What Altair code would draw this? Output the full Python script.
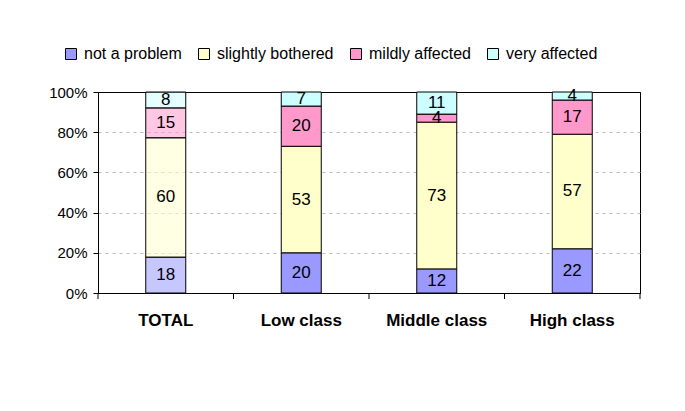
import altair as alt
import pandas as pd

categories = ["TOTAL", "Low class", "Middle class", "High class"]
responses = ["not a problem", "slightly bothered", "mildly affected", "very affected"]
not_a_problem = [18, 20, 12, 22]
slightly_bothered = [60, 53, 73, 57]
mildly_affected = [15, 20, 4, 17]
very_affected = [8, 7, 11, 4]
colors = ["#9999FF", "#FFFFCC", "#FF99CC", "#CCFFFF"]
y_ticks = [0, 0.2, 0.4, 0.6, 0.8, 1.0]

series = [not_a_problem, slightly_bothered, mildly_affected, very_affected]
rows = []
for i, c in enumerate(categories):
    for j, (r, vals) in enumerate(zip(responses, series)):
        rows.append({"cat": c, "resp": r, "order": j, "value": vals[i]})
df = pd.DataFrame(rows)

FONT = "Liberation Sans"

xscale = alt.Scale(paddingInner=0, paddingOuter=0)

base = alt.Chart(df).transform_stack(
    stack="value",
    groupby=["cat"],
    as_=["y0", "y1"],
    offset="normalize",
    sort=[alt.SortField("order", order="ascending")],
).transform_calculate(mid="(datum.y0 + datum.y1) / 2")

x_enc = alt.X(
    "cat:N",
    sort=categories,
    title=None,
    scale=xscale,
    axis=alt.Axis(
        ticks=False,
        labelAngle=0,
        labelFontSize=17,
        labelFontWeight="bold",
        labelPadding=19,
        labelColor="black",
        domainColor="black",
        grid=False,
    ),
)

edge = "datum.value == 0 || datum.value == 1"

bars = base.mark_bar(size=40, stroke="black", strokeWidth=1).encode(
    x=x_enc,
    y=alt.Y(
        "y0:Q",
        scale=alt.Scale(domain=[0, 1], nice=False),
        title=None,
        axis=alt.Axis(
            values=y_ticks,
            format=".0%",
            labelFontSize=15,
            labelColor="black",
            labelPadding=6,
            tickSize=5,
            tickColor="black",
            domainColor="black",
            grid=True,
            gridColor=alt.condition(edge, alt.value("black"), alt.value("#BBBBBB")),
            gridDash=alt.condition(edge, alt.value([1, 0]), alt.value([3, 4])),
        ),
    ),
    y2="y1:Q",
    color=alt.Color(
        "resp:N",
        sort=responses,
        scale=alt.Scale(domain=responses, range=colors),
        legend=alt.Legend(
            orient="none",
            legendX=-35,
            legendY=-46,
            direction="horizontal",
            title=None,
            symbolType="square",
            symbolSize=121,
            symbolStrokeColor="black",
            symbolStrokeWidth=1,
            symbolOpacity=1,
            labelFontSize=16,
            labelColor="black",
            labelOffset=5,
            columnPadding=14,
            padding=0,
        ),
    ),
    fillOpacity=alt.condition(
        "datum.cat == 'TOTAL'", alt.value(0.55), alt.value(1.0)
    ),
    order=alt.Order("order:Q"),
)

labels = base.mark_text(fontSize=17, color="black", baseline="middle").encode(
    x=alt.X("cat:N", sort=categories, scale=xscale),
    y=alt.Y("mid:Q"),
    text=alt.Text("value:Q"),
)

tick_df = pd.DataFrame({"cat": categories})
ticks_left = alt.Chart(tick_df).mark_rule(color="black").encode(
    x=alt.X("cat:N", sort=categories, scale=xscale, bandPosition=0),
    y=alt.value(201),
    y2=alt.value(207),
)
ticks_right = alt.Chart(tick_df).transform_filter(
    "datum.cat == 'High class'"
).mark_rule(color="black").encode(
    x=alt.X("cat:N", sort=categories, scale=xscale, bandPosition=1),
    y=alt.value(201),
    y2=alt.value(207),
)

chart = alt.layer(bars, labels, ticks_left, ticks_right).properties(
    width=542,
    height=201,
    autosize=alt.AutoSizeParams(type="none"),
    padding={"left": 90, "top": 84, "right": 37, "bottom": 100},
).configure(font=FONT).configure_view(stroke="black", strokeWidth=1)

chart.save("out.html", embed_options={"renderer": "svg", "actions": False})
